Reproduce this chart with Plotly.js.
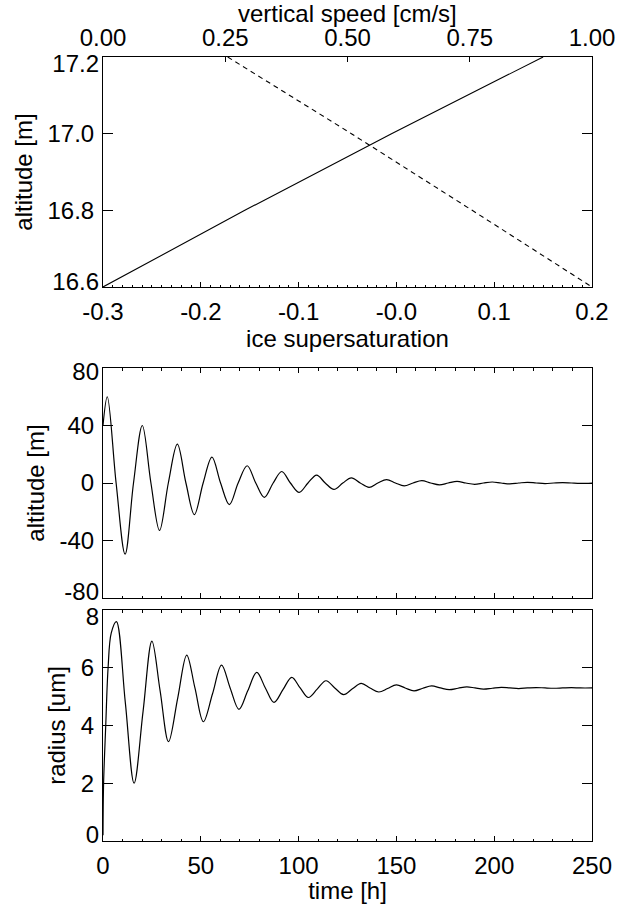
<!DOCTYPE html>
<html>
<head>
<meta charset="utf-8">
<script src="https://cdn.plot.ly/plotly-3.0.1.min.js"></script>
<style>
html,body{margin:0;padding:0;background:#fff;}
#chart{width:619px;height:904px;}
</style>
</head>
<body>
<div id="chart"></div>
<script>
// ---- Top panel: altitude profiles ----
var iceAlt = [16.6, 16.8, 17.0, 17.2];
var iceSupersat = [-0.3, -0.155, -0.005, 0.15];
var speedAlt = [17.2, 17.0, 16.8, 16.6];
var vertSpeed = [0.255, 0.508, 0.755, 1.0];

var iceTickVals = [-0.3, -0.2, -0.1, 0.0, 0.1, 0.2];
var iceTickText = ['-0.3', '-0.2', '-0.1', '-0.0', '0.1', '0.2'];
var speedTickVals = [0, 0.25, 0.5, 0.75, 1.0];
var speedTickText = ['0.00', '0.25', '0.50', '0.75', '1.00'];
var topAltTicks = [16.6, 16.8, 17.0, 17.2];
var topAltText = ['16.6', '16.8', '17.0', '17.2'];

// ---- Middle panel: altitude vs time ----
var altTime = [0, 2.2, 6.7, 11.3, 15.6, 20.1, 24.5, 28.9, 33.4, 38.0, 42.4, 46.7, 51.2, 55.7, 60.1,
  64.6, 69.1, 73.7, 78.1, 82.5, 87.0, 91.4, 95.8, 100.3, 104.8, 109.2, 113.6, 118.1, 122.6, 127.0,
  131.5, 136.0, 140.5, 145.0, 149.5, 154.0, 158.5, 163.0, 167.5, 172.0, 176.5, 181.0, 185.5, 190.0,
  194.5, 199.0, 203.5, 208.0, 212.5, 217.0, 221.5, 226.0, 230.5, 235.0, 239.5, 244.0, 250];
var altValue = [40, 60, 0, -49.5, 0, 40, 0, -33, 0, 27, 0, -22, 0, 18, 0,
  -15, 0, 12, 0, -10, 0, 8, 0, -6.5, 0, 5.5, 0, -4.5, 0, 3.6,
  0, -3, 0, 2.4, 0, -2, 0, 1.6, 0, -1.3, 0, 1.1, 0, -0.9,
  0, 0.7, 0, -0.6, 0, 0.5, 0, -0.4, 0, 0.3, 0, -0.25, 0];
var midAltTicks = [-80, -40, 0, 40, 80];
var midAltText = ['-80', '-40', '0', '40', '80'];

// ---- Bottom panel: radius vs time ----
var radTime = [0, 0.3, 1.4, 2.6, 4.2, 6.85, 11.4, 15.9, 20.5, 25.0, 29.2, 33.5, 38.2, 42.8, 47.0,
  51.3, 56.0, 60.6, 65.0, 69.5, 74.0, 78.6, 83.0, 87.4, 92.0, 96.5, 100.8, 105.0, 109.5, 114.0,
  118.5, 123.0, 127.5, 132.0, 136.5, 141.0, 145.5, 150.0, 154.5, 159.0, 163.5, 168.0, 172.5, 177.0,
  181.5, 186.0, 190.2, 194.5, 199.0, 203.6, 208.0, 212.5, 217.0, 221.5, 226.0, 230.5, 235.0, 239.5,
  244.0, 250];
var radValue = [0.2, 2.0, 4.0, 6.0, 7.2, 7.6, 4.8, 2.0, 4.5, 6.92, 5.2, 3.44, 4.95, 6.44, 5.3,
  4.13, 5.1, 6.09, 5.3, 4.56, 5.2, 5.84, 5.3, 4.8, 5.24, 5.67, 5.3, 4.97, 5.26, 5.55,
  5.3, 5.07, 5.27, 5.46, 5.3, 5.16, 5.28, 5.41, 5.3, 5.2, 5.29, 5.37, 5.3, 5.24,
  5.29, 5.34, 5.3, 5.26, 5.29, 5.32, 5.3, 5.28, 5.3, 5.315, 5.3, 5.29, 5.3, 5.31,
  5.3, 5.3];
var radTicks = [0, 2, 4, 6, 8];
var radText = ['0', '2', '4', '6', '8'];

var timeTickVals = [0, 50, 100, 150, 200, 250];
var timeTickText = ['0', '50', '100', '150', '200', '250'];

var FONT = 'Liberation Sans, Arial, Helvetica, sans-serif';
var FS = 24;
var W = 619, H = 904;
var xDom = [103 / W, 592 / W];
function yd(top, bot) { return [1 - bot / H, 1 - top / H]; }

var common = {
  showline: true, linecolor: '#000', linewidth: 1, ticks: 'inside', tickcolor: '#000',
  tickwidth: 1, showgrid: false, zeroline: false, tickfont: {family: FONT, size: FS, color: '#000'},
  fixedrange: true
};
function ax(o) { return Object.assign({}, common, o); }

// labels with blanks at the ends (ends are drawn by overlay axes, nudged inward like the original)
function inner(txt) { return txt.map(function (t, i) { return (i === 0 || i === txt.length - 1) ? '' : t; }); }
function endOnly(txt, which) { return txt.map(function (t, i) {
  var keep = which === 'first' ? i === 0 : i === txt.length - 1; return keep ? t : ''; }); }

// shift > 0 moves a y label down (screen direction)
function overlayY(base, domain, range, vals, txt, which, shift) {
  return {
    domain: domain, anchor: base.anchor, overlaying: base.id, side: 'left', range: range,
    tickmode: 'array', tickvals: vals, ticktext: endOnly(txt, which), ticks: '',
    showline: false, showgrid: false, zeroline: false, ticklabelshift: shift,
    ticklabelstandoff: 3, tickfont: {family: FONT, size: FS, color: '#000'}, fixedrange: true
  };
}

var dTop = yd(57, 287), dMid = yd(368, 598), dBot = yd(610, 841);

var traces = [
  {x: iceSupersat, y: iceAlt, xaxis: 'x', yaxis: 'y', mode: 'lines',
   line: {color: '#000', width: 1.1}},
  {x: vertSpeed, y: speedAlt, xaxis: 'x2', yaxis: 'y', mode: 'lines',
   line: {color: '#000', width: 1.1, dash: '5px,4px'}},
  {x: altTime, y: altValue, xaxis: 'x3', yaxis: 'y3', mode: 'lines',
   line: {color: '#000', width: 1.2, shape: 'spline', smoothing: 1}},
  {x: radTime, y: radValue, xaxis: 'x4', yaxis: 'y4', mode: 'lines',
   line: {color: '#000', width: 1.2, shape: 'spline', smoothing: 1}},
  // empty carriers for the label-only overlay axes
  {x: [], y: [], xaxis: 'x', yaxis: 'y5', mode: 'lines', hoverinfo: 'skip'},
  {x: [], y: [], xaxis: 'x', yaxis: 'y6', mode: 'lines', hoverinfo: 'skip'},
  {x: [], y: [], xaxis: 'x3', yaxis: 'y7', mode: 'lines', hoverinfo: 'skip'},
  {x: [], y: [], xaxis: 'x3', yaxis: 'y8', mode: 'lines', hoverinfo: 'skip'},
  {x: [], y: [], xaxis: 'x4', yaxis: 'y9', mode: 'lines', hoverinfo: 'skip'},
  {x: [], y: [], xaxis: 'x4', yaxis: 'y10', mode: 'lines', hoverinfo: 'skip'}
];

var layout = {
  width: W, height: H, margin: {l: 0, r: 0, t: 0, b: 0},
  paper_bgcolor: '#fff', plot_bgcolor: '#fff', showlegend: false,
  font: {family: FONT, size: FS, color: '#000'},
  xaxis: ax({domain: xDom, anchor: 'y', range: [-0.3, 0.2], tickmode: 'array',
    tickvals: iceTickVals, ticktext: iceTickText, ticklen: 4.6, ticklabelstandoff: 3,
    minor: {dtick: 0.01, tick0: 0, ticks: 'inside', ticklen: 2.5, tickcolor: '#000', tickwidth: 1, showgrid: false},
    title: {text: 'ice supersaturation', font: {family: FONT, size: FS}, standoff: 1}}),
  xaxis2: ax({domain: xDom, anchor: 'y', overlaying: 'x', side: 'top', range: [0, 1],
    tickmode: 'array', tickvals: speedTickVals, ticktext: speedTickText, ticklen: 4.6,
    ticklabelstandoff: 0}),
  yaxis: ax({domain: dTop, anchor: 'x', range: [16.6, 17.2], tickmode: 'array',
    tickvals: topAltTicks, ticktext: inner(topAltText), ticklen: 10, mirror: 'ticks',
    ticklabelstandoff: 3,
    title: {text: 'altitude [m]', font: {family: FONT, size: FS}, standoff: 8}}),
  yaxis5: overlayY({anchor: 'x', id: 'y'}, dTop, [16.6, 17.2], topAltTicks, topAltText, 'last', 7),
  yaxis6: overlayY({anchor: 'x', id: 'y'}, dTop, [16.6, 17.2], topAltTicks, topAltText, 'first', -5),
  xaxis3: ax({domain: xDom, anchor: 'y3', range: [0, 250], tickmode: 'array',
    tickvals: timeTickVals, showticklabels: false, ticklen: 4.6, mirror: 'ticks',
    minor: {dtick: 10, tick0: 0, ticks: 'inside', ticklen: 2.5, tickcolor: '#000', tickwidth: 1, showgrid: false}}),
  yaxis3: ax({domain: dMid, anchor: 'x3', range: [-80, 80], tickmode: 'array',
    tickvals: midAltTicks, ticktext: inner(midAltText), ticklen: 10, mirror: 'ticks', ticklabelstandoff: 3,
    title: {text: 'altitude [m]', font: {family: FONT, size: FS}, standoff: 8}}),
  yaxis7: overlayY({anchor: 'x3', id: 'y3'}, dMid, [-80, 80], midAltTicks, midAltText, 'last', 4),
  yaxis8: overlayY({anchor: 'x3', id: 'y3'}, dMid, [-80, 80], midAltTicks, midAltText, 'first', -6),
  xaxis4: ax({domain: xDom, anchor: 'y4', range: [0, 250], tickmode: 'array',
    tickvals: timeTickVals, ticktext: timeTickText, ticklen: 4.6, mirror: 'ticks', ticklabelstandoff: 3,
    minor: {dtick: 10, tick0: 0, ticks: 'inside', ticklen: 2.5, tickcolor: '#000', tickwidth: 1, showgrid: false},
    title: {text: 'time [h]', font: {family: FONT, size: FS}, standoff: 1}}),
  yaxis4: ax({domain: dBot, anchor: 'x4', range: [0, 8], tickmode: 'array',
    tickvals: radTicks, ticktext: inner(radText), ticklen: 10, mirror: 'ticks', ticklabelstandoff: 3,
    title: {text: 'radius [um]', font: {family: FONT, size: FS}, standoff: 8}}),
  yaxis9: overlayY({anchor: 'x4', id: 'y4'}, dBot, [0, 8], radTicks, radText, 'last', 7),
  yaxis10: overlayY({anchor: 'x4', id: 'y4'}, dBot, [0, 8], radTicks, radText, 'first', -6),
  annotations: [{
    text: 'vertical speed [cm/s]', xref: 'paper', yref: 'paper',
    x: (xDom[0] + xDom[1]) / 2, y: 1 - 14 / H, xanchor: 'center', yanchor: 'middle',
    showarrow: false, font: {family: FONT, size: FS, color: '#000'}
  }]
};

Plotly.newPlot('chart', traces, layout, {staticPlot: true, displayModeBar: false});
</script>
</body>
</html>
